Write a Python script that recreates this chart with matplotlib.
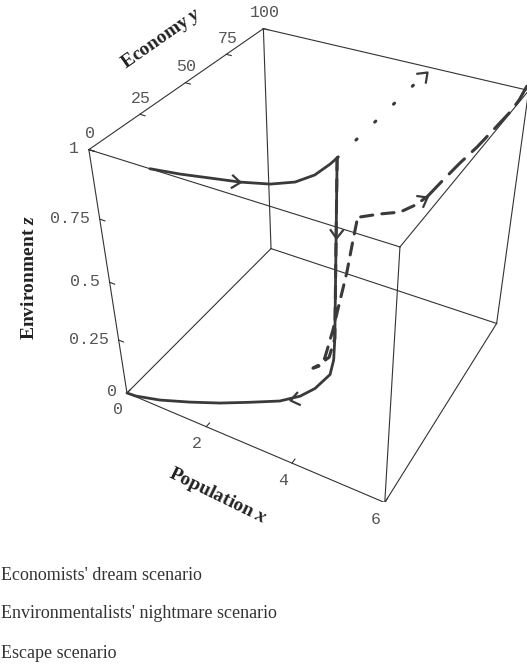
import matplotlib
matplotlib.use('Agg')
import matplotlib.pyplot as plt
from matplotlib.transforms import offset_copy, Affine2D
from matplotlib.markers import MarkerStyle
from matplotlib.path import Path

# bold italic serif for the variable letters in the axis labels
plt.rcParams['mathtext.fontset'] = 'custom'
plt.rcParams['mathtext.it'] = 'Liberation Serif:italic:bold'
plt.rcParams['mathtext.rm'] = 'Liberation Serif:bold'

# tick values
x_ticks = [0, 2, 4, 6]
y_ticks = [0, 25, 50, 75, 100]
z_ticks = [0, 0.25, 0.5, 0.75, 1]
z_tick_labels = ['0', '0.25', '0.5', '0.75', '1']

# growth phase, environment intact
grow_x = [1.32, 1.87, 2.38, 2.89, 3.36, 3.69, 3.87, 3.93, 3.94]
grow_y = [0, 1.82, 4.18, 6.51, 9.72, 14.05, 20.07, 27.48, 31.5]
grow_z = [1, 1, 1, 1, 1, 1, 1, 1, 1]
# nightmare: environment falls, then population and economy collapse
night_x = [3.94, 3.94, 3.94, 3.92, 3.85, 3.57, 3.29, 2.93, 2.4, 1.87, 1.3, 0.73, 0.22, 0]
night_y = [31.5, 31.5, 31.5, 31.5, 31.2, 29.0, 26.7, 22.9, 17.2, 11.8, 7.0, 2.8, 0.3, 0]
night_z = [1, 0.71, 0.3, 0.2, 0.13, 0.06, 0.02, 0, 0, 0, 0, 0, 0, 0]
# economists' dream: economy grows, environment stays intact
dream_x = [3.94, 3.95, 3.96]
dream_y = [31.5, 65, 96]
dream_z = [1, 1, 1]
# escape: dip, recovery, then economic take-off
esc_x = [3.94, 3.94, 3.94, 3.8, 3.5, 3.36, 3.5, 3.64, 3.82, 3.97, 4.1, 4.21, 4.3,
         4.35, 4.62, 4.91, 5.09, 5.2]
esc_y = [31.5, 31.5, 31.5, 32, 33, 34, 34, 34, 34, 34, 34, 34, 34,
         33.8, 38.2, 42.1, 46.5, 51]
esc_z = [1, 0.6, 0.3, 0.2, 0.13, 0.1, 0.12, 0.17, 0.31, 0.45, 0.57, 0.7, 0.8,
         0.8, 0.8, 0.8, 0.81, 0.82]
esc2_x = [5.2, 5.33, 5.47, 5.63, 5.76, 5.89, 5.94, 5.9]
esc2_y = [51, 58, 65.3, 72.3, 79.8, 88.4, 93.9, 104]
esc2_z = [0.82, 0.85, 0.88, 0.91, 0.94, 0.97, 0.99, 1.0]

legend_labels = ["Economists' dream scenario",
                 "Environmentalists' nightmare scenario",
                 "Escape scenario"]

ink = '#333333'
curve = '#3a3a3a'
W_PX, H_PX = 527, 668
fig = plt.figure(figsize=(W_PX / 100, H_PX / 100), dpi=100)
ax = fig.add_axes([0.1251, 0.2491, 0.9372, 0.7394], projection='3d')
ax.view_init(36.14, -61.24, -0.04)
ax.set_proj_type('persp', focal_length=0.3744)
ax.set_box_aspect((1, 0.9768, 0.9835))
ax.set_axis_off()
# the box, ticks and labels are drawn by hand below
ax.set_xticks([]); ax.set_yticks([]); ax.set_zticks([])

# bounding box
xl, yl, zl = (0, 6), (0, 100), (0, 1)
for a in yl:
    for b in zl:
        ax.plot(xl, [a, a], [b, b], color=ink, lw=0.8)
for a in xl:
    for b in zl:
        ax.plot([a, a], yl, [b, b], color=ink, lw=0.8)
for a in xl:
    for b in yl:
        ax.plot([a, a], [b, b], zl, color=ink, lw=0.8)

# ticks and tick labels
tick_kw = dict(family='Liberation Mono', fontsize=12, color='#555555')
for v in x_ticks:
    ax.plot([v, v], [0, 2], [0, 0], color=ink, lw=0.8)
    ax.text(v, 0, 0, str(v), ha='center', va='center',
            transform=offset_copy(ax.transData, fig, x=-9, y=-17, units='dots'), **tick_kw)
for v in y_ticks:
    ax.plot([0, 0.12], [v, v], [1, 1], color=ink, lw=0.8)
    ax.text(0, v, 1, str(v), ha='center', va='center',
            transform=offset_copy(ax.transData, fig, x=1, y=16, units='dots'), **tick_kw)
for v, lab in zip(z_ticks, z_tick_labels):
    ax.plot([0, 0.12], [0, 0], [v, v], color=ink, lw=0.8)
    ax.text(0, 0, v, lab, ha='right', va='center',
            transform=offset_copy(ax.transData, fig, x=-10, y=1, units='dots'), **tick_kw)

# trajectories
line_kw = dict(color=curve, solid_capstyle='round', dash_capstyle='round')
ax.plot(grow_x, grow_y, grow_z, lw=2.0, **line_kw)
ax.plot(night_x, night_y, night_z, lw=2.0, **line_kw)
ax.plot(dream_x, dream_y, dream_z, lw=2.2, linestyle=(0, (0.5, 8)), **line_kw)
ax.plot(esc_x, esc_y, esc_z, lw=2.2, linestyle=(0, (4, 3)), **line_kw)
ax.plot(esc2_x, esc2_y, esc2_z, lw=2.2, linestyle=(0, (7, 3.5)), **line_kw)

# open arrow heads
chevron = Path([(-1, 0.75), (0, 0), (-1, -0.75)], [Path.MOVETO, Path.LINETO, Path.LINETO])
arrows = [((2.89, 6.51, 1), -6), ((3.94, 31.5, 0.71), -92), ((3.1, 24.8, 0), 192),
          ((3.96, 96, 1), 44), ((5.2, 51, 0.82), 29)]
for (px, py, pz), ang in arrows:
    ax.plot([px], [py], [pz], linestyle='none',
            marker=MarkerStyle(chevron, transform=Affine2D().rotate_deg(ang)),
            markersize=13, mfc='none', mec=curve, mew=1.6)

ax.set_xlim(xl); ax.set_ylim(yl); ax.set_zlim(zl)

lab_kw = dict(family='Liberation Serif', fontweight='bold', fontsize=14, color='#222222',
              ha='center', va='center', rotation_mode='anchor')
fig.text(161 / W_PX, 1 - 39 / H_PX, 'Economy $y$', rotation=35, **lab_kw)
fig.text(29 / W_PX, 1 - 278 / H_PX, 'Environment $z$', rotation=90, **lab_kw)
fig.text(218 / W_PX, 1 - 496 / H_PX, 'Population $x$', rotation=-26, **lab_kw)

for i, lab in enumerate(legend_labels):
    fig.text(1 / W_PX, 1 - (575 + 39 * i) / H_PX, lab, ha='left', va='center',
             family='Liberation Serif', fontsize=13, color='#333333')

fig.savefig('out.png', dpi=100)
